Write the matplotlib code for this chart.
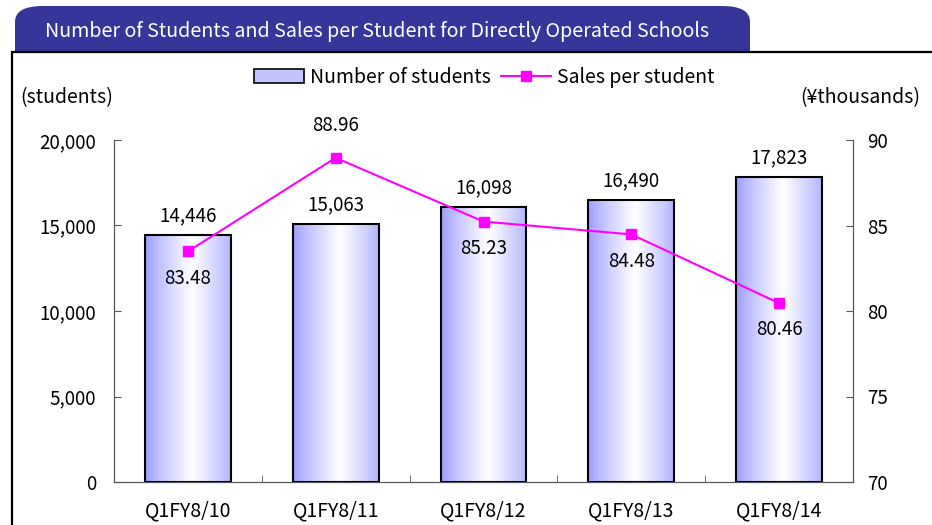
import matplotlib
matplotlib.use("Agg")
import matplotlib.pyplot as plt
import numpy as np
from matplotlib.patches import FancyBboxPatch, Rectangle, Patch
from matplotlib.lines import Line2D

plt.rcParams['font.family'] = ['Noto Sans CJK JP', 'DejaVu Sans']

categories = ['Q1FY8/10', 'Q1FY8/11', 'Q1FY8/12', 'Q1FY8/13', 'Q1FY8/14']
students = [14446, 15063, 16098, 16490, 17823]
sales = [83.48, 88.96, 85.23, 84.48, 80.46]
sales_above = [False, True, False, False, False]

W, H = 932, 525
fig = plt.figure(figsize=(W / 100, H / 100), dpi=100)


def fx(px):
    return px / W


def fy(py):
    return 1 - py / H


# title tab and frame
tab = FancyBboxPatch((fx(15), fy(80)), fx(750) - fx(15), fy(6) - fy(80),
                     boxstyle="round,pad=0,rounding_size=0.03",
                     transform=fig.transFigure, facecolor='#36369a',
                     edgecolor='none', zorder=1)
fig.patches.append(tab)
frame = Rectangle((fx(12), fy(540)), fx(945) - fx(12), fy(52) - fy(540),
                  transform=fig.transFigure, facecolor='white',
                  edgecolor='black', lw=1.6, zorder=2)
fig.patches.append(frame)
fig.text(fx(45), fy(31), 'Number of Students and Sales per Student for Directly Operated Schools',
         color='white', fontsize=14.2, va='center', ha='left', zorder=3)

ax = fig.add_axes([fx(114), fy(482), fx(853) - fx(114), fy(140) - fy(482)])
ax.set_zorder(3)
ax.patch.set_alpha(0)
x = np.arange(len(categories))
bars = ax.bar(x, students, width=0.58, facecolor='none', edgecolor='black',
              lw=1.5, zorder=3)

# horizontal gradient for bars: light blue edges, white centre
t = np.linspace(0, 1, 200)
light = np.clip(1 - np.abs(t - 0.55) / 0.55, 0, 1) ** 0.8
edge = np.array([0.60, 0.60, 1.0])
grad = edge[None, :] + (1 - edge[None, :]) * light[:, None]
grad = grad[None, :, :]
for b in bars:
    bx, by = b.get_x(), b.get_y()
    im = ax.imshow(grad, extent=[bx, bx + b.get_width(), by, by + b.get_height()],
                   aspect='auto', zorder=2, interpolation='bilinear')
    im.set_clip_path(b)
for b, v in zip(bars, students):
    ax.text(b.get_x() + b.get_width() / 2, v + 520, f'{v:,}', ha='center',
            va='bottom', fontsize=13.5)

ax.set_xlim(-0.5, 4.5)
ax.set_ylim(0, 20000)
ax.set_yticks(range(0, 20001, 5000))
ax.set_yticklabels([f'{v:,}' for v in range(0, 20001, 5000)], fontsize=13.5)
ax.set_xticks(x)
ax.set_xticklabels(categories, fontsize=14)
ax.tick_params(axis='x', length=0, pad=13)
ax.set_xticks(np.arange(-0.5, 5, 1), minor=True)
ax.tick_params(axis='x', which='minor', direction='in', length=5, color='#555555')
ax.tick_params(axis='y', direction='in', length=5, color='#555555', pad=13)
ax.spines['top'].set_visible(False)
for s in ['left', 'right', 'bottom']:
    ax.spines[s].set_color('#555555')

ax2 = ax.twinx()
ax2.set_ylim(70, 90)
ax2.set_yticks(range(70, 91, 5))
ax2.tick_params(axis='y', direction='in', length=5, color='#555555', labelsize=13.5, pad=10)
ax2.spines['top'].set_visible(False)
for s in ['left', 'right', 'bottom']:
    ax2.spines[s].set_color('#555555')
ax2.plot(x, sales, color='#ff00ff', lw=1.5, marker='s', markersize=7, zorder=4)
for xi, v, up in zip(x, sales, sales_above):
    if up:
        ax2.text(xi, v + 1.25, f'{v:.2f}', ha='center', va='bottom', fontsize=13.5)
    else:
        ax2.text(xi, v - 0.95, f'{v:.2f}', ha='center', va='top', fontsize=13.5)

fig.text(fx(20), fy(98), '(students)', fontsize=14, va='center', ha='left', zorder=4)
fig.text(fx(920), fy(98), '(¥thousands)', fontsize=14, va='center', ha='right', zorder=4)

handles = [Patch(facecolor='#c4c4ff', edgecolor='black', lw=1.2),
           Line2D([], [], color='#ff00ff', lw=1.5, marker='s', markersize=7)]
leg = fig.legend(handles, ['Number of students', 'Sales per student'], ncol=2,
                 loc='center', bbox_to_anchor=(fx(484), fy(77)), frameon=False,
                 fontsize=14, handlelength=2.6, handletextpad=0.3, columnspacing=0.5)
leg.set_zorder(5)

fig.savefig('out.png', dpi=100)
